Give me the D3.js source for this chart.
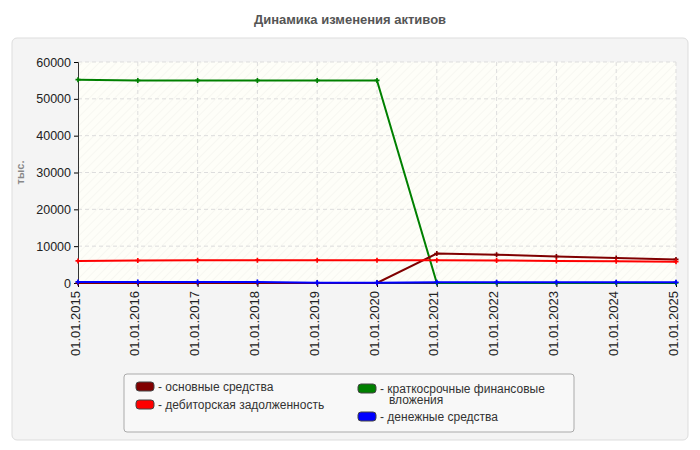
<!DOCTYPE html>
<html><head><meta charset="utf-8">
<script src="https://cdn.jsdelivr.net/npm/d3@7"></script>
<style>body{margin:0;background:#fff;font-family:"Liberation Sans",Arial,sans-serif}</style>
</head><body><div id="app"></div>
<script>
const dates = ['01.01.2015','01.01.2016','01.01.2017','01.01.2018','01.01.2019','01.01.2020','01.01.2021','01.01.2022','01.01.2023','01.01.2024','01.01.2025'];
const fixedAssets = [0,0,0,0,0,0,8000,7700,7200,6800,6400];
const receivables = [6000,6100,6200,6200,6200,6200,6200,6100,6000,5900,5800];
const shortInvest = [55200,55000,55000,55000,55000,55000,0,0,0,0,0];
const cash = [300,300,300,300,100,100,200,200,200,200,200];
const yTicks = [0,10000,20000,30000,40000,50000,60000];

const series = [
  {name:'основные средства', color:'#800000', values:fixedAssets},
  {name:'дебиторская задолженность', color:'#ff0000', values:receivables},
  {name:'краткосрочные финансовые вложения', color:'#008000', values:shortInvest},
  {name:'денежные средства', color:'#0000ff', values:cash}
];

const svg = d3.select('#app').append('svg').attr('width',700).attr('height',450);
const defs = svg.append('defs');
const pat = defs.append('pattern').attr('id','hatch').attr('patternUnits','userSpaceOnUse')
  .attr('width',6).attr('height',6).attr('patternTransform','rotate(45)');
pat.append('rect').attr('width',6).attr('height',6).attr('fill','#fefef8');
pat.append('line').attr('x1',0).attr('y1',0).attr('x2',0).attr('y2',6).attr('stroke','#f0f0ea').attr('stroke-width',1);

svg.append('text').attr('x',350).attr('y',24).attr('text-anchor','middle')
  .attr('font-size',13).attr('font-weight','bold').attr('fill','#555').text('Динамика изменения активов');
svg.append('rect').attr('x',12).attr('y',38).attr('width',676).attr('height',402).attr('rx',5)
  .attr('fill','#f4f4f4').attr('stroke','#ddd');

const m = {l:78, r:676, t:62, b:283};
const x = d3.scalePoint().domain(dates).range([m.l,m.r]);
const y = d3.scaleLinear().domain([0,60000]).range([m.b,m.t]);

svg.append('rect').attr('x',m.l).attr('y',m.t).attr('width',m.r-m.l).attr('height',m.b-m.t).attr('fill','url(#hatch)');
const grid = svg.append('g').attr('stroke','#ddd').attr('stroke-dasharray','4,3');
grid.selectAll('.h').data(yTicks.slice(1)).join('line').attr('x1',m.l).attr('x2',m.r).attr('y1',d=>y(d)).attr('y2',d=>y(d));
grid.selectAll('.v').data(dates.slice(1)).join('line').attr('x1',d=>x(d)).attr('x2',d=>x(d)).attr('y1',m.t).attr('y2',m.b);

const ya = svg.append('g').attr('transform',`translate(${m.l},0)`)
  .call(d3.axisLeft(y).tickValues(yTicks).tickSize(4).tickFormat(d3.format('d')));
ya.selectAll('text').attr('font-size',12.5).attr('fill','#222').attr('font-family','Liberation Sans, Arial');
const xa = svg.append('g').attr('transform',`translate(0,${m.b})`).call(d3.axisBottom(x).tickSize(4));
xa.selectAll('text').attr('font-size',13).attr('fill','#222').attr('font-family','Liberation Sans, Arial')
  .attr('transform','rotate(-90)').attr('text-anchor','end').attr('dx','-8').attr('dy','-0.45em');
svg.selectAll('.domain').attr('stroke','#333');
svg.append('text').attr('transform',`translate(24,${(m.t+m.b)/2}) rotate(-90)`).attr('text-anchor','middle')
  .attr('font-size',11).attr('font-weight','bold').attr('fill','#888').text('тыс.');

const line = d3.line().x((d,i)=>x(dates[i])).y(d=>y(d));
[series[2],series[0],series[1],series[3]].forEach(s=>{
  const g = svg.append('g');
  g.append('path').attr('d',line(s.values)).attr('fill','none').attr('stroke',s.color).attr('stroke-width',2);
  g.selectAll('path.m').data(s.values).join('path').attr('class','m')
    .attr('d',d3.symbol(d3.symbolCross,14)).attr('fill',s.color)
    .attr('transform',(d,i)=>`translate(${x(dates[i])},${y(d)})`);
});

const lg = svg.append('g');
lg.append('rect').attr('x',124).attr('y',374).attr('width',450).attr('height',58).attr('rx',3)
  .attr('fill','#f8f8f8').attr('stroke','#aaa');
const pos = [[136,387],[136,405],[358,389],[358,417]];
series.forEach((s,i)=>{
  const [px,py] = pos[i];
  lg.append('rect').attr('x',px).attr('y',py-5).attr('width',18).attr('height',9).attr('rx',3)
    .attr('fill',s.color).attr('stroke','#444');
  if(i===2){
    lg.append('text').attr('x',px+22).attr('y',py+4).attr('font-size',12).attr('fill','#333').text('- краткосрочные финансовые');
    lg.append('text').attr('x',px+31).attr('y',py+15).attr('font-size',12).attr('fill','#333').text('вложения');
  } else lg.append('text').attr('x',px+22).attr('y',py+4).attr('font-size',12).attr('fill','#333').text('- '+s.name);
});
</script></body></html>
